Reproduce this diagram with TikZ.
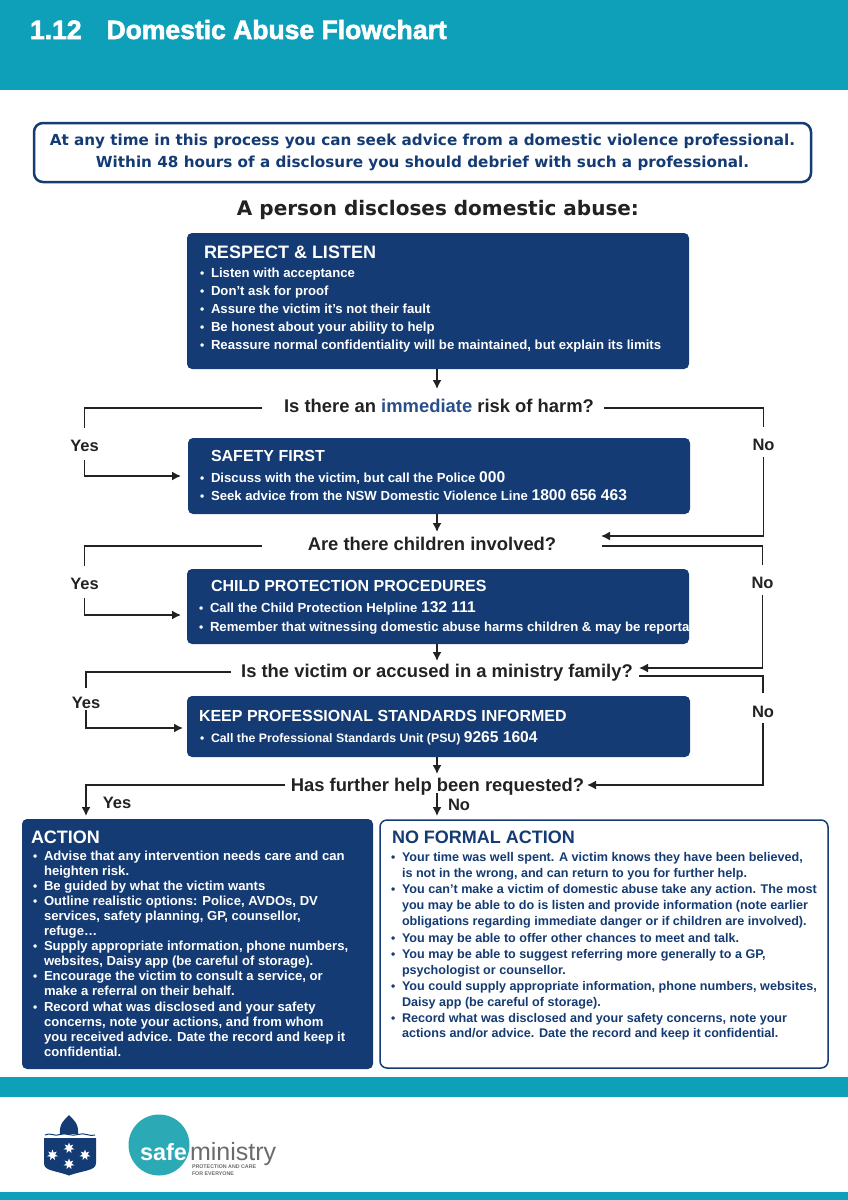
\documentclass[tikz,border=0pt]{standalone}
\usepackage{fontspec}
\setmainfont{Liberation Sans}
\newfontfamily\dejab{DejaVu Sans}[BoldFont=DejaVu Sans Bold]
\newfontfamily\heavy{Liberation Sans Bold}[FakeBold=2.2]
\usetikzlibrary{arrows.meta,shapes.geometric}
\definecolor{teal1}{HTML}{0FA0B9}
\definecolor{navy1}{HTML}{143B73}
\definecolor{blue1}{HTML}{2A4F88}
\definecolor{ink}{HTML}{222222}
\definecolor{logoteal}{HTML}{2BA9B5}
\definecolor{logogray}{HTML}{6B6B6B}
\newcommand{\fs}[2]{\fontsize{#1}{#2}\selectfont}
\newcommand{\bu}{\llap{\makebox[11pt][l]{\fontsize{12}{12}\selectfont •}}}
\newcommand{\num}[1]{{\fontsize{15.6}{18}\selectfont #1}}
\tikzset{
  x=1pt,y=-1pt,
  band/.style={fill=teal1,draw=none},
  navybox/.style={fill=navy1,draw=none,rounded corners=5pt,inner sep=0pt,outer sep=0pt},
  lbl/.style={inner sep=0pt,outer sep=0pt},
  head/.style={lbl,anchor=base west,text=white,font=\bfseries\fs{16}{19}},
  bighead/.style={head,font=\bfseries\fs{18}{20}},
  list/.style={lbl,anchor=north west,align=left,text=white,font=\bfseries\fs{13.15}{18.2}},
  question/.style={lbl,text=ink,font=\bfseries\fs{18.4}{20}},
  yn/.style={lbl,text=ink,font=\bfseries\fs{16.5}{18},minimum width=30pt},
  ln/.style={draw=ink,line width=1.5pt},
  arr/.style={ln,-{Latex[length=9pt,width=9pt]}},
  st/.style={star,star points=7,star point ratio=2.1,fill=white,draw=none,minimum size=11pt,inner sep=0pt},
}
\begin{document}
\begin{tikzpicture}
\useasboundingbox (0,0) rectangle (848,1200);
% bands
\fill[band] (0,0) rectangle (848,90);
\fill[band] (0,1077) rectangle (848,1097);
\fill[band] (0,1192) rectangle (848,1200);
\node[lbl,anchor=base west,text=white,font=\heavy\fs{26.5}{28}] (title) at (30,39) {1.12\hspace{25pt}Domestic Abuse Flowchart};
% notice
\node[draw=navy1,line width=2.5pt,rounded corners=9pt,fill=white,minimum width=777pt,minimum height=59pt,inner sep=0pt,align=center,text=navy1,font=\dejab\bfseries\fs{15.2}{22}] (notice) at (422.5,152.5)
 {At any time in this process you can seek advice from a domestic violence professional.\\Within 48 hours of a disclosure you should debrief with such a professional.};
\node[lbl,text=ink,font=\dejab\bfseries\fs{20}{24}] (lead) at (438,210) {A person discloses domestic abuse:};
% boxes
\node[navybox,minimum width=502pt,minimum height=136pt] (box1) at (438,301) {};
\node[bighead] (h1) at (204,258) {RESPECT \& LISTEN};
\node[list] (l1) at (211,267.5) {\bu Listen with acceptance\\\bu Don’t ask for proof\\\bu Assure the victim it's not their fault\\\bu Be honest about your ability to help\\\bu Reassure normal confidentiality will be maintained, but explain its limits};
\node[navybox,minimum width=502pt,minimum height=76pt] (box2) at (439,476) {};
\node[head] (h2) at (211,461) {SAFETY FIRST};
\node[list] (l2) at (211,471.5) {\bu Discuss with the victim, but call the Police \num{000}\\\bu Seek advice from the NSW Domestic Violence Line \num{1800 656 463}};
\node[navybox,minimum width=502pt,minimum height=75pt] (box3) at (438,606.5) {};
\node[head] (h3) at (211,591) {CHILD PROTECTION PROCEDURES};
\node[list] (l3) at (210,602) {\bu Call the Child Protection Helpline \num{132 111}\\\bu Remember that witnessing domestic abuse harms children \& may be reporta};
\node[navybox,minimum width=503pt,minimum height=61pt] (box4) at (438.5,726.5) {};
\node[head] (h4) at (199,721) {KEEP PROFESSIONAL STANDARDS INFORMED};
\node[list,font=\bfseries\fs{12.3}{18}] (l4) at (211,732) {\bu Call the Professional Standards Unit (PSU) \num{9265 1604}};
% questions
\node[question] (q1) at (439,406) {Is there an {\color{blue1}immediate} risk of harm?};
\node[question] (q2) at (432,544) {Are there children involved?};
\node[question] (q3) at (437,673) {Is the victim or accused in a ministry family?};
\node[question] (q4) at (437.5,787) {Has further help been requested?};
% yes / no
\node[yn,minimum height=28pt] (y1) at (84.5,446) {Yes};
\node[yn,minimum height=28pt] (y2) at (84.5,584) {Yes};
\node[yn,minimum height=22pt] (y3) at (86,703) {Yes};
\node[yn] (y4) at (117,803) {Yes};
\node[yn,minimum height=24pt] (n1) at (763.5,445) {No};
\node[yn,minimum height=24pt] (n2) at (762.5,583) {No};
\node[yn,minimum height=22pt] (n3) at (763,712) {No};
\node[yn] (n4) at (459,805) {No};
% action boxes
\node[navybox,minimum width=351pt,minimum height=250pt] (actbox) at (197.5,944) {};
\node[bighead] (ah) at (31,843) {ACTION};
\node[lbl,anchor=north west,align=left,text=white,font=\bfseries\fs{13.1}{15.1}] (al) at (44,850.5)
{\bu Advise that any intervention needs care and can\\heighten risk.\\
\bu Be guided by what the victim wants\\
\bu Outline realistic options: Police, AVDOs, DV\\services, safety planning, GP, counsellor,\\refuge…\\
\bu Supply appropriate information, phone numbers,\\websites, Daisy app (be careful of storage).\\
\bu Encourage the victim to consult a service, or\\make a referral on their behalf.\\
\bu Record what was disclosed and your safety\\concerns, note your actions, and from whom\\you received advice. Date the record and keep it\\confidential.};
\node[draw=navy1,line width=1.5pt,fill=white,rounded corners=7pt,minimum width=448pt,minimum height=248pt,inner sep=0pt,outer sep=0pt] (nobox) at (604,944) {};
\node[bighead,text=navy1] (nh) at (392,843) {NO FORMAL ACTION};
\node[lbl,anchor=north west,align=left,text=navy1,font=\bfseries\fs{12.6}{15.85}] (nl) at (402,852.5)
{\bu Your time was well spent. A victim knows they have been believed,\\is not in the wrong, and can return to you for further help.\\
\bu You can’t make a victim of domestic abuse take any action. The most\\you may be able to do is listen and provide information (note earlier\\obligations regarding immediate danger or if children are involved).\\[2pt]
\bu You may be able to offer other chances to meet and talk.\\
\bu You may be able to suggest referring more generally to a GP,\\psychologist or counsellor.\\
\bu You could supply appropriate information, phone numbers, websites,\\Daisy app (be careful of storage).\\
\bu Record what was disclosed and your safety concerns, note your\\actions and/or advice. Date the record and keep it confidential.};
% connector ends
\coordinate (q1l) at (262,408);
\coordinate (q1r) at (604,408);
\coordinate (q2l) at (262,546);
\coordinate (q2r) at (602,546);
\coordinate (q2in) at (601,536);
\coordinate (q3l) at (231,672);
\coordinate (q3r) at (639,676);
\coordinate (q3in) at (639,668);
\coordinate (q4l) at (285,785);
\coordinate (q4in) at (587,785);
\coordinate (q4b) at (437,793);
\coordinate (a1) at (437,389);
\coordinate (a2) at (437,532);
\coordinate (a3) at (437,661);
\coordinate (a4) at (437,774);
\coordinate (actn) at (86,816);
\coordinate (non) at (437,816);
% connectors
\draw[arr] (box1.south -| a1) -- (a1);
\draw[arr] (box2.south -| a2) -- (a2);
\draw[arr] (box3.south -| a3) -- (a3);
\draw[arr] (box4.south -| a4) -- (a4);
\draw[ln] (q1l) -| ([yshift=4pt]y1.north);
\draw[arr,shorten >=7pt] (y1.south) |- (box2.west);
\draw[ln] (q1r) -| ([yshift=6pt]n1.north);
\draw[arr] (n1.south) |- (q2in);
\draw[ln] (q2l) -| ([yshift=4pt]y2.north);
\draw[arr,shorten >=6pt] (y2.south) |- ([yshift=-8.5pt]box3.west);
\draw[ln] (q2r) -| ([yshift=6pt]n2.north);
\draw[arr] (n2.south) |- (q3in);
\draw[ln] (q3l) -| ([yshift=4pt]y3.north);
\draw[arr,shorten >=4pt] ([yshift=4pt]y3.south) |- ([yshift=-1.5pt]box4.west);
\draw[ln] (q3r) -| ([yshift=8pt]n3.north);
\draw[arr] (n3.south) |- (q4in);
\draw[arr] (q4l) -| (actn);
\draw[arr] (q4b) -- (non);
% shield logo
\fill[navy1] (60,1134) .. controls (59,1124) and (64,1120) .. (69,1115) .. controls (74,1120) and (79,1124) .. (78,1134) -- cycle;
\draw[navy1,line width=1pt] (45,1135) .. controls (50,1132) and (55,1137) .. (60,1134.5) .. controls (65,1132) and (72,1137) .. (78,1134.5) .. controls (84,1132) and (90,1137) .. (95,1135);
\fill[navy1] (44,1138) -- (96,1138) -- (96,1163) .. controls (96,1171) and (84,1170) .. (69,1175.5) .. controls (54,1170) and (44,1171) .. (44,1163) -- cycle;
\node[st] (s1) at (69,1148) {};
\node[st] (s2) at (52.5,1155) {};
\node[st] (s3) at (85,1155) {};
\node[st] (s4) at (69,1164) {};
% safeministry logo
\fill[logoteal] (159,1145) circle (30.5);
\node[lbl,anchor=base west,text=white,font=\bfseries\fs{23.5}{26}] (safe) at (140,1160.5) {safe};
\node[lbl,anchor=base west,text=logogray,font=\fs{25}{28}] (ministry) at (190,1160.5) {ministry};
\node[lbl,anchor=north west,align=left,text=logogray,font=\bfseries\fs{5.3}{7}] (tag) at (192,1164.5) {PROTECTION AND CARE\\FOR EVERYONE};
\end{tikzpicture}
\end{document}
